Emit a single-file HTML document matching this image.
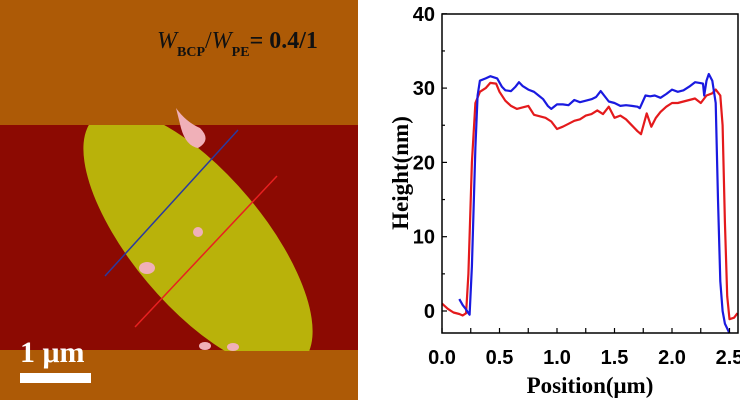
<!DOCTYPE html>
<html><head><meta charset="utf-8"><style>
html,body{margin:0;padding:0;background:#fff;width:740px;height:400px;overflow:hidden}
svg{display:block}
</style></head><body>
<svg width="740" height="400" xmlns="http://www.w3.org/2000/svg">
<defs><clipPath id="cl" clipPathUnits="userSpaceOnUse"><rect x="0" y="125" width="358" height="226"/></clipPath></defs>
<g>
  <rect x="0" y="0" width="358" height="400" fill="#ad5a06"/>
  <rect x="0" y="125" width="358" height="225" fill="#8c0a02"/>
  <g clip-path="url(#cl)">
    <ellipse cx="198" cy="240" rx="160" ry="66" transform="rotate(50 198 240)" fill="#b9b20a"/>
  </g>
  <path d="M176 108 Q186 122 200 128 Q212 140 198 148 Q186 146 181 128 Z" fill="#f0b0b8"/>
  <ellipse cx="147" cy="268" rx="8" ry="6" fill="#f0b0b8"/>
  <ellipse cx="198" cy="232" rx="5" ry="5" fill="#f0b0b8"/>
  <ellipse cx="205" cy="346" rx="6" ry="4" fill="#f0b0b8"/>
  <ellipse cx="233" cy="347" rx="6" ry="4" fill="#f0b0b8"/>
  <line x1="105" y1="276" x2="238" y2="130" stroke="#2a3aa0" stroke-width="1.5"/>
  <line x1="135" y1="327" x2="277" y2="176" stroke="#e82020" stroke-width="1.5"/>
  <text x="157" y="48" font-family="Liberation Serif, serif" font-size="24" fill="#111"><tspan font-style="italic">W</tspan><tspan font-size="14" font-weight="bold" dy="8">BCP</tspan><tspan dy="-8">/</tspan><tspan font-style="italic">W</tspan><tspan font-size="14" font-weight="bold" dy="8">PE</tspan><tspan font-weight="bold" dy="-8">= 0.4/1</tspan></text>
  <text x="20" y="362" font-family="Liberation Serif, serif" font-size="30" font-weight="bold" fill="#fff">1 μm</text>
  <rect x="20" y="373" width="71" height="10" fill="#fff"/>
</g>
<g id="chart"></g>
</svg>
<script>
const xTicks=[0,0.5,1.0,1.5,2.0,2.5];
const xTickLabels=["0.0","0.5","1.0","1.5","2.0","2.5"];
const yTicks=[0,10,20,30,40];
const yTickLabels=["0","10","20","30","40"];
const redX=[0,0.05,0.1,0.15,0.18,0.21,0.23,0.26,0.29,0.33,0.38,0.42,0.47,0.5,0.55,0.6,0.65,0.7,0.75,0.8,0.85,0.9,0.95,1.0,1.05,1.1,1.15,1.2,1.25,1.3,1.35,1.4,1.45,1.5,1.55,1.6,1.65,1.7,1.73,1.78,1.82,1.86,1.9,1.95,2.0,2.05,2.1,2.15,2.2,2.25,2.3,2.35,2.38,2.42,2.44,2.46,2.48,2.5,2.54,2.57];
const redY=[1.0,0.3,-0.2,-0.4,-0.6,-0.3,5,20,28,29.5,30,30.7,30.6,29.5,28.3,27.6,27.2,27.4,27.6,26.4,26.2,26,25.5,24.5,24.8,25.2,25.6,25.8,26.3,26.5,27,26.5,27.5,26,26.3,25.8,25,24.2,23.8,26.6,24.8,26,26.8,27.5,28,28,28.2,28.4,28.6,28,29,29.3,29.8,29,25,12,2,-1.1,-0.9,-0.3];
const blueX=[0.15,0.18,0.21,0.23,0.24,0.26,0.29,0.31,0.33,0.38,0.42,0.48,0.52,0.55,0.6,0.64,0.67,0.7,0.75,0.8,0.84,0.88,0.92,0.95,1.0,1.05,1.1,1.15,1.2,1.25,1.3,1.34,1.38,1.42,1.45,1.5,1.55,1.6,1.65,1.7,1.72,1.77,1.81,1.85,1.9,1.95,2.0,2.05,2.1,2.15,2.2,2.24,2.27,2.28,2.3,2.32,2.35,2.38,2.4,2.42,2.44,2.46,2.5];
const blueY=[1.6,0.8,0.2,-0.3,-0.5,6,22,29,31,31.3,31.6,31.3,30.2,29.7,29.6,30.2,30.8,30.3,29.8,29.5,29,28.5,27.6,27.2,27.8,27.8,27.7,28.4,28.1,28.3,28.5,28.8,29.6,28.8,28.2,28,27.6,27.7,27.6,27.5,27.3,29,28.9,29,28.7,29.2,29.8,29.5,29.7,30.2,30.8,30.7,30.6,29,31,31.9,31,28,15,4,0,-1.7,-3];
const NS="http://www.w3.org/2000/svg";
const L=442,R=738,T=14,B=333;
const sx=v=>442+v*115;
const sy=v=>311-v*7.43;
const g=document.getElementById('chart');
function mk(tag,attrs,parent){const e=document.createElementNS(NS,tag);for(const k in attrs)e.setAttribute(k,attrs[k]);(parent||g).appendChild(e);return e;}
function line(xs,ys,color,name){
  const p=mk('path',{d:xs.map((x,i)=>(i?'L':'M')+sx(x).toFixed(1)+' '+sy(ys[i]).toFixed(1)).join(' '),fill:'none',stroke:color,'stroke-width':2.2,'stroke-linejoin':'round'});
  
  
}
line(redX,redY,'#e41a1c','red-series');
line(blueX,blueY,'#1a1ae0','blue-series');
const frame=mk('rect',{x:L,y:T,width:R-L,height:B-T,fill:'none',stroke:'#000','stroke-width':1.5});


for(let v=0;v<=2.5;v+=0.25){
  const t=mk('line',{x1:sx(v),x2:sx(v),y1:B,y2:B-5,stroke:'#000','stroke-width':1.2});
  
  
}
for(let v=0;v<=40;v+=5){
  const t=mk('line',{x1:L,x2:L+(v%10?3:5),y1:sy(v),y2:sy(v),stroke:'#000','stroke-width':1.2});
  
  
}
xTicks.forEach((v,i)=>{
  const t=mk('text',{x:sx(v),y:364,'text-anchor':'middle','font-family':'Liberation Sans, sans-serif','font-weight':'bold','font-size':20,fill:'#000'});
  t.textContent=xTickLabels[i];
  
  
});
yTicks.forEach((v,i)=>{
  const t=mk('text',{x:435,y:sy(v)+7,'text-anchor':'end','font-family':'Liberation Sans, sans-serif','font-weight':'bold','font-size':20,fill:'#000'});
  t.textContent=yTickLabels[i];
  
  
});
const xt=mk('text',{x:590,y:393,'text-anchor':'middle','font-family':'Liberation Serif, serif','font-weight':'bold','font-size':23,fill:'#000'});
xt.textContent='Position(μm)';


const yt=mk('text',{x:0,y:0,transform:'translate(408,173) rotate(-90)','text-anchor':'middle','font-family':'Liberation Serif, serif','font-weight':'bold','font-size':23,fill:'#000'});
yt.textContent='Height(nm)';


</script>
</body></html>
